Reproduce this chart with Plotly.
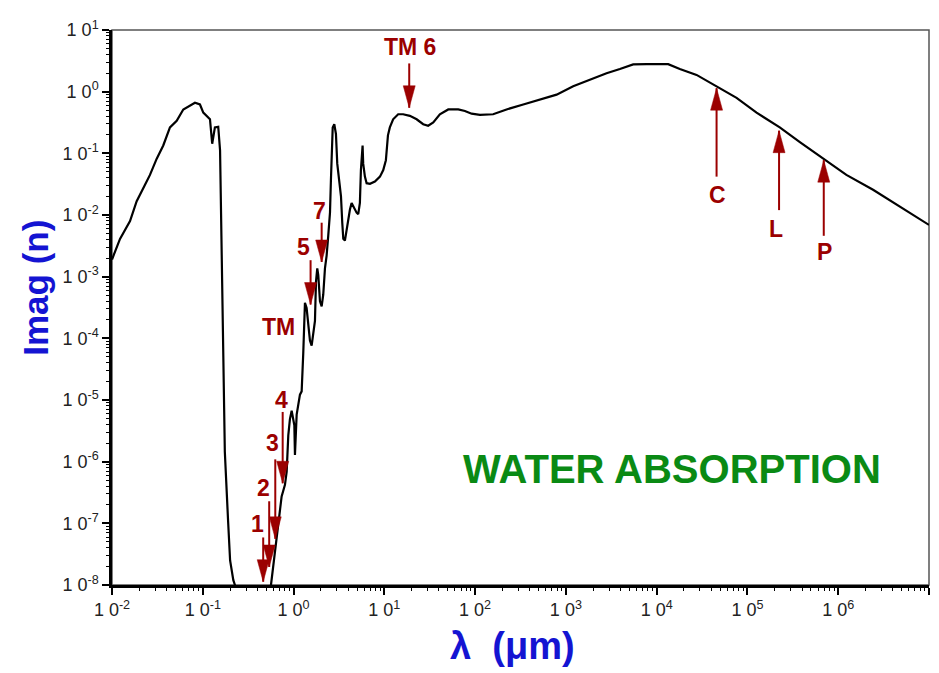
import math
import plotly.graph_objects as go

# ---- spectrum data ----
wavelength_um = [
    0.0100, 0.01225, 0.0158, 0.0187, 0.0231, 0.0262, 0.0311, 0.0367, 0.0435, 0.0516,
    0.061, 0.0723, 0.082, 0.0931, 0.1013, 0.120, 0.127, 0.136, 0.148, 0.155,
    0.161, 0.167, 0.175, 0.19, 0.20, 0.217, 0.226, 0.25, 0.35, 0.45,
    0.52, 0.564, 0.597, 0.651, 0.708, 0.739, 0.804, 0.84, 0.875, 0.912,
    0.953, 1.02, 1.036, 1.054, 1.082, 1.176, 1.228, 1.278, 1.30, 1.335,
    1.393, 1.452, 1.516, 1.582, 1.648, 1.721, 1.766, 1.825, 1.872, 1.954,
    2.04, 2.124, 2.218, 2.315, 2.41, 2.52, 2.58, 2.63, 2.70, 2.81,
    2.93, 3.03, 3.19, 3.33, 3.44, 3.53, 3.68, 3.85, 4.00, 4.18,
    4.36, 4.54, 4.74, 4.95, 5.16, 5.38, 5.52, 5.76, 5.85, 6.11,
    6.38, 6.94, 7.87, 8.95, 9.73, 10.4, 10.96, 11.5, 12.5, 14.2,
    16.1, 19.1, 22.7, 26.8, 30.4, 34.6, 40.9, 50.6, 65.2, 77.2,
    91.5, 113, 158, 222, 339, 517, 790, 1203, 1837, 2805,
    3935, 5510, 7740, 13400, 18000, 27500, 45700, 75900, 1.26e5, 2.27e5,
    3.78e5, 6.82e5, 1.23e6, 2.42e6, 4.76e6, 1.0e7,
]
k_imag = [
    1.9e-3, 4.1e-3, 8.0e-3, 0.0167, 0.0309, 0.0447, 0.082, 0.134, 0.263, 0.337,
    0.515, 0.585, 0.66, 0.62, 0.457, 0.357, 0.143, 0.263, 0.27, 0.112,
    3.6e-3, 1.17e-4, 1.43e-6, 1.1e-7, 2.5e-8, 1.2e-8, 1.0e-8, 3.0e-9, 1.5e-9, 2.0e-9,
    4.0e-9, 1.0e-8, 1.96e-8, 5.2e-8, 1.4e-7, 2.73e-7, 4.2e-7, 6.9e-7, 2.67e-6, 4.9e-6,
    6.7e-6, 3.9e-6, 1.28e-6, 2.98e-6, 5.8e-6, 1.22e-5, 1.38e-5, 5.6e-5, 1.5e-4, 3.76e-4,
    3.1e-4, 1.5e-4, 9.2e-5, 7.6e-5, 1.32e-4, 1.91e-4, 8.3e-4, 1.36e-3, 1.06e-3, 4.0e-4,
    3.3e-4, 5.1e-4, 1.36e-3, 2.22e-3, 4.6e-3, 0.0109, 0.037, 0.126, 0.263, 0.297,
    0.206, 0.068, 0.0328, 0.0201, 7.5e-3, 4.1e-3, 3.85e-3, 5.9e-3, 9.6e-3, 0.0123,
    0.0157, 0.0139, 0.0123, 0.0109, 0.0103, 0.0157, 0.0536, 0.134, 0.068, 0.0419,
    0.0328, 0.032, 0.0349, 0.0419, 0.0536, 0.0774, 0.196, 0.263, 0.357, 0.43,
    0.43, 0.405, 0.357, 0.297, 0.28, 0.316, 0.43, 0.515, 0.515, 0.486,
    0.44, 0.42, 0.43, 0.515, 0.62, 0.745, 0.895, 1.22, 1.55, 1.99,
    2.33, 2.77, 2.79, 2.79, 2.33, 1.87, 1.22, 0.793, 0.457, 0.263,
    0.152, 0.082, 0.0447, 0.0257, 0.0139, 6.9e-3,
]

# ---- tick labels ----
x_exponents = [-2, -1, 0, 1, 2, 3, 4, 5, 6, 7]
y_exponents = [-8, -7, -6, -5, -4, -3, -2, -1, 0, 1]

# ---- marker arrows ----
arrow_labels = ["1", "2", "3", "4", "5", "7", "TM 6", "C", "L", "P"]
arrow_x = [0.463, 0.539, 0.629, 0.759, 1.54, 2.04, 18.8, 4.57e4, 2.23e5, 6.93e5]
arrow_tip_y = [1.13e-8, 1.96e-8, 5.6e-8, 4.46e-7, 3.53e-4, 1.73e-3, 0.548, 1.14, 0.233, 0.0775]
arrow_tail_y = [5.9e-8, 2.28e-7, 1.09e-6, 6.4e-6, 1.85e-3, 7.5e-3, 2.87, 0.0419, 0.0120, 4.6e-3]
label_x = [0.398, 0.463, 0.589, 0.740, 1.28, 1.92, 19.1, 4.63e4, 2.06e5, 7.11e5]
label_y = [9.7e-8, 3.7e-7, 2.0e-6, 1.01e-5, 3.0e-3, 0.0116, 5.3, 0.0214, 5.9e-3, 2.5e-3]

extra_labels = ["TM"]
extra_x = [0.678]
extra_y = [1.5e-4]

RED = "#9b0000"
BLUE = "#1414d2"
GREEN = "#0a8a14"
FONT = "Liberation Sans, Arial, sans-serif"

fig = go.Figure()
fig.add_trace(go.Scatter(
    x=wavelength_um, y=k_imag, mode="lines",
    line=dict(color="black", width=2.2),
    showlegend=False, hoverinfo="skip",
))

shapes = [dict(type="rect", xref="paper", yref="paper", x0=0, y0=0, x1=1, y1=1,
               line=dict(color="#555555", width=1.5), layer="below")]
annotations = []
for lab, ax_, tip, tail, lx, ly in zip(arrow_labels, arrow_x, arrow_tip_y, arrow_tail_y, label_x, label_y):
    s = 1 if tail > tip else -1
    shapes.append(dict(type="line", xref="x", yref="y", x0=ax_, x1=ax_, y0=tail, y1=tip,
                       line=dict(color=RED, width=2)))
    shapes.append(dict(type="path", xref="x", yref="y", xsizemode="pixel", ysizemode="pixel",
                       xanchor=ax_, yanchor=tip,
                       path=f"M -6,{22*s} L 6,{22*s} L 0,0 Z",
                       fillcolor=RED, line=dict(color=RED, width=0.5)))
    annotations.append(dict(x=math.log10(lx), y=math.log10(ly), xref="x", yref="y",
                            xanchor="center", yanchor="middle",
                            text=f"<b>{lab}</b>", showarrow=False,
                            font=dict(family=FONT, size=23, color=RED)))
for lab, lx, ly in zip(extra_labels, extra_x, extra_y):
    annotations.append(dict(x=math.log10(lx), y=math.log10(ly), xref="x", yref="y",
                            xanchor="center", yanchor="middle",
                            text=f"<b>{lab}</b>", showarrow=False,
                            font=dict(family=FONT, size=23, color=RED)))

annotations.append(dict(x=0.6854, y=0.2092, xref="paper", yref="paper",
                        xanchor="center", yanchor="middle",
                        text="<b>WATER ABSORPTION</b>", showarrow=False,
                        font=dict(family=FONT, size=40, color=GREEN)))
annotations.append(dict(x=-0.094, y=0.536, xref="paper", yref="paper", textangle=-90,
                        xanchor="center", yanchor="middle",
                        text="<b>Imag (n)</b>", showarrow=False,
                        font=dict(family=FONT, size=35, color=BLUE)))
annotations.append(dict(x=0.4896, y=-0.110, xref="paper", yref="paper",
                        xanchor="center", yanchor="middle",
                        text="<b>\u03bb\u00a0\u00a0(\u03bcm)</b>", showarrow=False,
                        font=dict(family=FONT, size=38, color=BLUE)))

tick_font = dict(family=FONT, size=18, color="#222222")
fig.update_layout(
    width=931, height=665,
    margin=dict(l=104, r=10, t=13, b=88),
    paper_bgcolor="white", plot_bgcolor="white",
    shapes=shapes, annotations=annotations,
    showlegend=False,
    xaxis=dict(type="log", range=[-2, 7], showgrid=False, zeroline=False,
               showline=True, linecolor="black", linewidth=2.5,
               tickmode="array", tickvals=[10.0 ** e for e in x_exponents],
               ticktext=[f"1 0<sup>{e}</sup>" for e in x_exponents],
               ticks="outside", ticklen=7, tickwidth=1.5, tickcolor="black",
               minor=dict(ticks="outside", ticklen=3, tickwidth=1, tickcolor="black", dtick="D1", showgrid=False),
               tickfont=tick_font),
    yaxis=dict(type="log", range=[-8, 1], showgrid=False, zeroline=False,
               showline=True, linecolor="black", linewidth=2.5,
               tickmode="array", tickvals=[10.0 ** e for e in y_exponents],
               ticktext=[f"1 0<sup>{e}</sup>" for e in y_exponents],
               ticks="outside", ticklen=7, tickwidth=1.5, tickcolor="black",
               minor=dict(ticks="outside", ticklen=3, tickwidth=1, tickcolor="black", dtick="D1", showgrid=False),
               tickfont=tick_font),
)

fig.write_html("out.html")
